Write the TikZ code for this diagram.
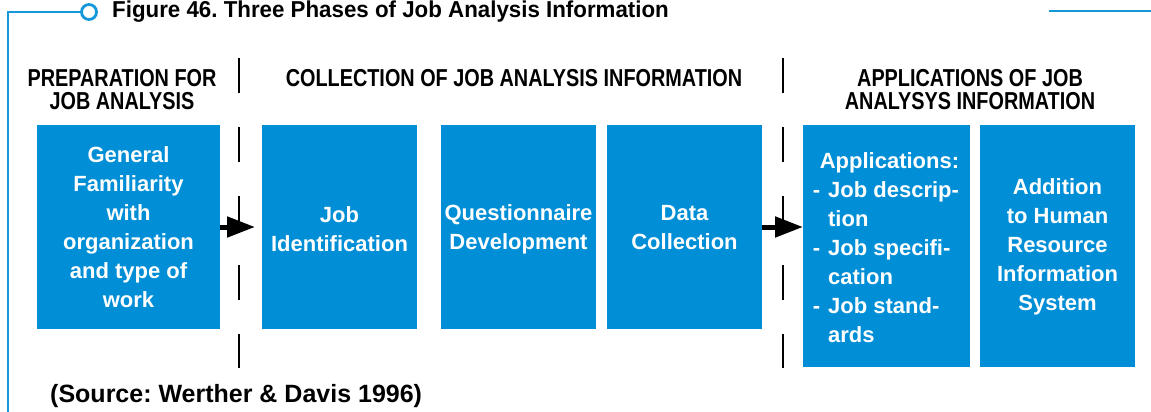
\documentclass[tikz,border=0pt]{standalone}
\usepackage{fontspec}
\setmainfont{Liberation Sans}
\newfontfamily\condfont[FakeStretch=0.81]{Liberation Sans}
\newfontfamily\titlefont[FakeStretch=0.97]{Liberation Sans}
\usetikzlibrary{arrows.meta}
\definecolor{boxblue}{RGB}{0,142,214}
\definecolor{lineblue}{RGB}{20,152,218}
\tikzset{
  boxtext/.style={text=white, font=\frenchspacing\bfseries\fontsize{22}{29}\selectfont, align=center, inner sep=0pt},
  headtext/.style={font=\condfont\bfseries\fontsize{24.5}{24}\selectfont, align=center, inner sep=0pt},
  sepline/.style={line width=2pt, dash pattern=on 35pt off 34pt},
  arr/.style={line width=5pt, -{Triangle[length=28pt,width=20pt]}},
  frameline/.style={draw=lineblue, line width=2.8pt}
}
\begin{document}
\begin{tikzpicture}[x=1pt,y=-1pt]
\useasboundingbox (0,0) rectangle (1151,412);
% frame
\coordinate (fb) at (8,412);
\coordinate (fc) at (8,12);
\node[frameline, circle, minimum size=15pt, inner sep=0pt, fill=white] (ring) at (89,12) {};
\draw[frameline] (fb) -- (fc) -- (ring.west);
\coordinate (rl) at (1049,11);
\coordinate (rr) at (1151,11);
\draw[frameline] (rl) -- (rr);
\node[font=\frenchspacing\titlefont\bfseries\fontsize{23}{24}\selectfont, anchor=base west, inner sep=0pt] (title) at (112,18) {Figure 46. Three Phases of Job Analysis Information};
% headers
\node[headtext, anchor=base] (h1) at (122,110) {PREPARATION FOR\\JOB ANALYSIS};
\node[headtext, anchor=base] (h2) at (514,86) {COLLECTION OF JOB ANALYSIS INFORMATION};
\node[headtext, anchor=base] (h3) at (970,110) {APPLICATIONS OF JOB\\ANALYSYS INFORMATION};
% separators
\coordinate (s1t) at (239,58); \coordinate (s1b) at (239,368);
\coordinate (s2t) at (783,58); \coordinate (s2b) at (783,368);
\draw[sepline] (s1t) -- (s1b);
\draw[sepline] (s2t) -- (s2b);
% boxes
\fill[boxblue] (37,125) rectangle (220,329);
\fill[boxblue] (262,125) rectangle (417,329);
\fill[boxblue] (441,125) rectangle (596,329);
\fill[boxblue] (607,125) rectangle (762,329);
\fill[boxblue] (803,125) rectangle (970,367);
\fill[boxblue] (980,125) rectangle (1135,367);
\node[boxtext] (t1) at (128.5,227) {General\\Familiarity\\with\\organization\\and type of\\work};
\node[boxtext] (t2) at (339.5,229) {Job\\Identification};
\node[boxtext] (t3) at (518.5,229) {Questionnaire\\Development};
\node[boxtext] (t4) at (684.5,228) {Data\\Collection};
\node[boxtext, align=left] (t5) at (886,248) {\hspace{7pt}Applications:\\-\hspace{8pt}Job descrip-\\\hphantom{-}\hspace{8pt}tion\\-\hspace{8pt}Job specifi-\\\hphantom{-}\hspace{8pt}cation\\-\hspace{8pt}Job stand-\\\hphantom{-}\hspace{8pt}ards};
\node[boxtext] (t6) at (1057.5,247) {Addition\\to Human\\Resource\\Information\\System};
% arrows
\coordinate (a1s) at (220,227); \coordinate (a1e) at (255,227);
\coordinate (a2s) at (762,227); \coordinate (a2e) at (803,227);
\draw[arr] (a1s) -- (a1e);
\draw[arr] (a2s) -- (a2e);
% source
\node[font=\frenchspacing\bfseries\fontsize{25}{28}\selectfont, anchor=base west, inner sep=0pt] (src) at (50,402) {(Source: Werther \& Davis 1996)};
\end{tikzpicture}
\end{document}
